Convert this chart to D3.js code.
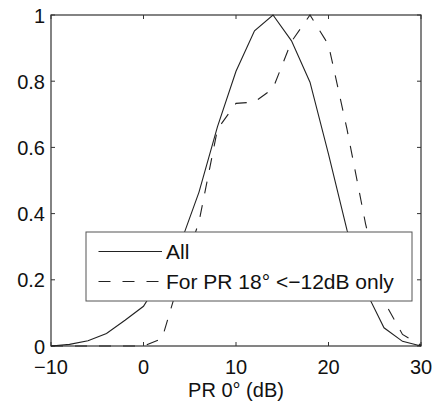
<!DOCTYPE html>
<html>
<head>
<meta charset="utf-8">
<script src="https://cdn.jsdelivr.net/npm/d3@7"></script>
<style>
  html, body { margin: 0; padding: 0; background: #fff; }
  svg { display: block; }
</style>
</head>
<body>
<svg id="root"></svg>
<script>
// PR 0° (dB) sample points
const prValues = [-10, -8, -6, -4, -2, 0, 2, 4, 6, 8, 10, 12, 14, 16, 18, 20, 22, 24, 26, 28, 30];
// normalised counts, all
const allValues = [0, 0.005, 0.016, 0.038, 0.078, 0.12, 0.21, 0.31, 0.465, 0.663, 0.83, 0.952, 1.0, 0.922, 0.797, 0.58, 0.35, 0.168, 0.055, 0.014, 0];
// normalised counts, PR 18° < -12dB only
const pr18Values = [0, 0, 0, 0, 0, 0, 0.022, 0.21, 0.375, 0.655, 0.733, 0.737, 0.778, 0.92, 1.0, 0.91, 0.655, 0.37, 0.135, 0.035, 0.002];

const xTicks = [-10, 0, 10, 20, 30];
const yTicks = [0, 0.2, 0.4, 0.6, 0.8, 1];
const legendLabels = ["All", "For PR 18° <\u221212dB only"];
const xLabel = "PR 0° (dB)";

const draw = () => {
  const width = 437,
    height = 404;
  const font = "'Liberation Sans', Arial, Helvetica, sans-serif";

  const x = d3.scaleLinear().domain([-10, 30]).range([51, 421]);
  const y = d3.scaleLinear().domain([0, 1]).range([346, 15]);

  const svg = d3.select("svg#root").attr("width", width).attr("height", height);

  // box
  svg
    .append("rect")
    .attr("x", x(-10))
    .attr("y", y(1))
    .attr("width", x(30) - x(-10))
    .attr("height", y(0) - y(1))
    .attr("fill", "none")
    .attr("stroke", "#333")
    .attr("stroke-width", 1.2);

  // ticks, pointing inward on all four sides
  const tickLen = 4;
  const ticks = svg.append("g").attr("stroke", "#333").attr("stroke-width", 1);
  xTicks.forEach((t) => {
    ticks.append("line").attr("x1", x(t)).attr("x2", x(t)).attr("y1", y(0)).attr("y2", y(0) - tickLen);
    ticks.append("line").attr("x1", x(t)).attr("x2", x(t)).attr("y1", y(1)).attr("y2", y(1) + tickLen);
  });
  yTicks.forEach((t) => {
    ticks.append("line").attr("x1", x(-10)).attr("x2", x(-10) + tickLen).attr("y1", y(t)).attr("y2", y(t));
    ticks.append("line").attr("x1", x(30)).attr("x2", x(30) - tickLen).attr("y1", y(t)).attr("y2", y(t));
  });

  // tick labels
  const fmtX = d3.format("d");
  svg
    .append("g")
    .selectAll("text")
    .data(xTicks)
    .join("text")
    .attr("x", (d) => x(d))
    .attr("y", 374)
    .attr("text-anchor", "middle")
    .attr("font-family", font)
    .attr("font-size", "20px")
    .attr("fill", "#111")
    .text((d) => fmtX(d));

  svg
    .append("g")
    .selectAll("text")
    .data(yTicks)
    .join("text")
    .attr("x", 45)
    .attr("y", (d) => y(d) + 7.5)
    .attr("text-anchor", "end")
    .attr("font-family", font)
    .attr("font-size", "20px")
    .attr("fill", "#111")
    .text((d) => d3.format("~g")(d));

  svg
    .append("text")
    .attr("x", (x(-10) + x(30)) / 2)
    .attr("y", 396.5)
    .attr("text-anchor", "middle")
    .attr("font-family", font)
    .attr("font-size", "20px")
    .attr("fill", "#111")
    .text(xLabel);

  // curves
  const line = d3
    .line()
    .x((d, i) => x(prValues[i]))
    .y((d) => y(d));

  svg
    .append("path")
    .datum(allValues)
    .attr("d", line)
    .attr("fill", "none")
    .attr("stroke", "#222")
    .attr("stroke-width", 1.1);

  svg
    .append("path")
    .datum(pr18Values)
    .attr("d", line)
    .attr("fill", "none")
    .attr("stroke", "#222")
    .attr("stroke-width", 1.1)
    .attr("stroke-dasharray", "12,12");

  // legend
  const legend = svg.append("g");
  legend
    .append("rect")
    .attr("x", 86)
    .attr("y", 232)
    .attr("width", 412 - 86)
    .attr("height", 301 - 232)
    .attr("fill", "#fff")
    .attr("stroke", "#555")
    .attr("stroke-width", 1);

  const rowY = [251.5, 281.5];
  const dashes = [null, "12,12"];
  legendLabels.forEach((label, i) => {
    legend
      .append("line")
      .attr("x1", 98.5)
      .attr("x2", 162)
      .attr("y1", rowY[i])
      .attr("y2", rowY[i])
      .attr("stroke", "#222")
      .attr("stroke-width", 1.1)
      .attr("stroke-dasharray", dashes[i]);
    legend
      .append("text")
      .attr("x", 166)
      .attr("y", rowY[i] + 7.5)
      .attr("font-family", font)
      .attr("font-size", "21px")
      .attr("fill", "#111")
      .text(label);
  });

  return svg.node();
};

draw();
</script>
</body>
</html>
